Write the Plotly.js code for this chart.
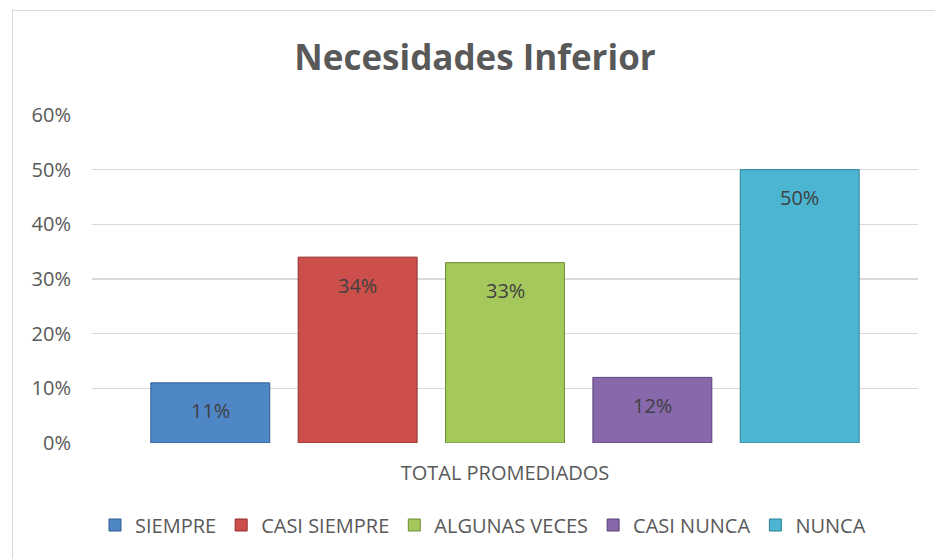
<!DOCTYPE html>
<html>
<head>
<meta charset="utf-8">
<script src="https://cdn.plot.ly/plotly-3.0.1.min.js"></script>
<style>
html,body{margin:0;padding:0;background:#fff;overflow:hidden;}
#frame{position:absolute;left:12px;top:10px;width:1000px;height:700px;border:1.5px solid #d9d9d9;box-sizing:border-box;}
#chart{position:absolute;left:0;top:0;width:935px;height:559px;}
</style>
</head>
<body>
<div id="frame"></div>
<div id="chart"></div>
<script>
const category = ["TOTAL PROMEDIADOS"];
const seriesNames = ["SIEMPRE", "CASI SIEMPRE", "ALGUNAS VECES", "CASI NUNCA", "NUNCA"];
const seriesValues = [0.11, 0.34, 0.33, 0.12, 0.50];
const seriesColors = ["#4f86c6", "#cd4f4b", "#a5c85c", "#8668ab", "#4cb5d2"];
const seriesEdges = ["#2f5d91", "#8f2f2c", "#6f8c35", "#5a4479", "#2d7f96"];
const tickValues = [0, 0.1, 0.2, 0.3, 0.4, 0.5, 0.6];

const FONT = "Open Sans, Lato, sans-serif";
const traces = seriesNames.map((name, i) => ({
  type: "bar",
  name: name,
  x: category,
  y: [seriesValues[i]],
  marker: {color: seriesColors[i], line: {color: seriesEdges[i], width: 1}},
  hoverinfo: "skip"
}));

const labelTexts = seriesValues.map(v => Math.round(v * 100) + "%");

const layout = {
  width: 935, height: 559,
  margin: {l: 92, r: 17, t: 115, b: 116},
  paper_bgcolor: "rgba(0,0,0,0)",
  plot_bgcolor: "rgba(0,0,0,0)",
  font: {family: FONT, color: "#595959"},
  title: {
    text: "<b>Necesidades Inferior</b>",
    font: {family: FONT, size: 35, color: "#595959"},
    x: 475 / 935, xref: "container", xanchor: "center",
    y: 1 - 58 / 559, yref: "container", yanchor: "middle"
  },
  barmode: "group",
  bargap: 0.108,
  bargroupgap: 0.193,
  xaxis: {
    type: "category",
    showgrid: false, zeroline: false, showline: false, ticks: "",
    ticklabelstandoff: 16,
    tickfont: {family: FONT, size: 20, color: "#595959"},
    fixedrange: true
  },
  yaxis: {
    range: [0, 0.6],
    tickvals: tickValues,
    tickformat: ".0%",
    showgrid: true, gridcolor: "#d9d9d9", gridwidth: 1.5,
    zeroline: false, showline: false, ticks: "",
    ticklabelstandoff: 20,
    tickfont: {family: FONT, size: 20, color: "#595959"},
    fixedrange: true
  },
  showlegend: true,
  legend: {
    orientation: "h",
    xref: "container", yref: "container",
    x: 483 / 935, xanchor: "center",
    y: 1 - 525 / 559, yanchor: "middle",
    font: {family: FONT, size: 20, color: "#595959"},
    itemwidth: 30,
    traceorder: "normal"
  },
  annotations: []
};

Plotly.newPlot("chart", traces, layout, {displayModeBar: false, staticPlot: true}).then(gd => {
  // data labels near the top of each bar, centred on the bar's computed position
  const anns = gd.calcdata.map((cdArr, i) => ({
    xref: "x", yref: "y",
    x: (cdArr[0].p0 + cdArr[0].p1) / 2,
    y: seriesValues[i],
    text: labelTexts[i],
    showarrow: false,
    yshift: -28,
    font: {family: FONT, size: 20, color: "#404040"}
  }));
  Plotly.relayout(gd, {annotations: anns});
});
</script>
</body>
</html>
